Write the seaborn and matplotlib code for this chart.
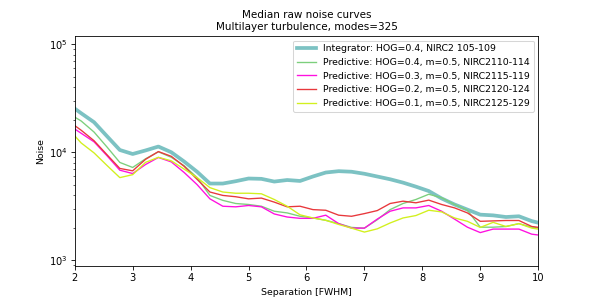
import numpy as np
import pandas as pd
import matplotlib
matplotlib.use("Agg")
import matplotlib.pyplot as plt
import seaborn as sns

# Separation grid in FWHM (half-pixel centres, 2/9 FWHM per pixel)
sep = [1.889, 2.111, 2.333, 2.556, 2.778, 3.0, 3.222, 3.444, 3.667, 3.889,
       4.111, 4.333, 4.556, 4.778, 5.0, 5.222, 5.444, 5.667, 5.889, 6.111,
       6.333, 6.556, 6.778, 7.0, 7.222, 7.444, 7.667, 7.889, 8.111, 8.333,
       8.556, 8.778, 9.0, 9.222, 9.444, 9.667, 9.889, 10.111]

integ_04 = [28000, 23000, 19000, 14100, 10500, 9640, 10400, 11300, 10000, 8200,
            6600, 5130, 5130, 5390, 5710, 5670, 5350, 5530, 5420, 5960,
            6490, 6680, 6600, 6320, 5960, 5620, 5230, 4800, 4370, 3730,
            3280, 2940, 2640, 2600, 2510, 2550, 2300, 2150]
pred_04 = [23000, 19500, 15400, 11200, 8050, 7230, 8700, 10100, 8980, 7500,
           5830, 3980, 3580, 3350, 3280, 3160, 2840, 2740, 2550, 2460,
           2340, 2180, 2010, 1980, 2370, 2940, 3350, 3650, 4080, 3790,
           3280, 2900, 2020, 2020, 2050, 2180, 2020, 1950]
pred_03 = [18000, 15000, 12500, 9300, 6820, 6350, 7700, 8950, 8140, 6490,
           5020, 3700, 3160, 3120, 3210, 3120, 2680, 2510, 2440, 2440,
           2610, 2180, 1980, 1980, 2400, 2840, 3050, 3050, 3210, 2840,
           2400, 2020, 1800, 1940, 1940, 1940, 1740, 1680]
pred_02 = [19500, 16000, 12800, 9500, 7080, 6730, 8600, 10150, 9170, 7400,
           5620, 4280, 3980, 3870, 3700, 3760, 3450, 3120, 3160, 2940,
           2900, 2610, 2550, 2700, 2880, 3350, 3520, 3400, 3600, 3280,
           3050, 2740, 2290, 2310, 2330, 2330, 2050, 1980]
pred_01 = [16500, 12200, 9870, 7550, 5820, 6200, 8060, 8980, 8330, 6980,
           5830, 4700, 4280, 4170, 4170, 4120, 3650, 3160, 2630, 2460,
           2340, 2140, 1980, 1820, 1950, 2210, 2460, 2590, 2900, 2800,
           2460, 2290, 2010, 2240, 2050, 2180, 1980, 1900]

labels = ["Integrator: HOG=0.4, NIRC2 105-109",
          "Predictive: HOG=0.4, m=0.5, NIRC2110-114",
          "Predictive: HOG=0.3, m=0.5, NIRC2115-119",
          "Predictive: HOG=0.2, m=0.5, NIRC2120-124",
          "Predictive: HOG=0.1, m=0.5, NIRC2125-129"]
series = [integ_04, pred_04, pred_03, pred_02, pred_01]
colors = ["#7cc2c3", "#7ccf7c", "#ff10e0", "#e8383c", "#d2f01e"]
widths = [3.6, 1.3, 1.3, 1.3, 1.3]

fig, ax = plt.subplots(figsize=(8, 4), dpi=74.75)
for lab, vals, c, w in zip(labels, series, colors, widths):
    df = pd.DataFrame({"sep": sep, "noise": vals})
    sns.lineplot(data=df, x="sep", y="noise", ax=ax, color=c, linewidth=w, label=lab)

ax.set_yscale("log")
ax.set_xlim(2, 10)
ax.set_ylim(880, 1.2e5)
ax.set_xlabel("Separation [FWHM]", fontsize=9)
ax.set_ylabel("Noise", fontsize=9)
ax.tick_params(labelsize=9.5)
ax.set_title("Median raw noise curves\nMultilayer turbulence, modes=325", fontsize=10)
ax.legend(loc="upper right", fontsize=9)

fig.savefig("out.png", dpi=74.75)
